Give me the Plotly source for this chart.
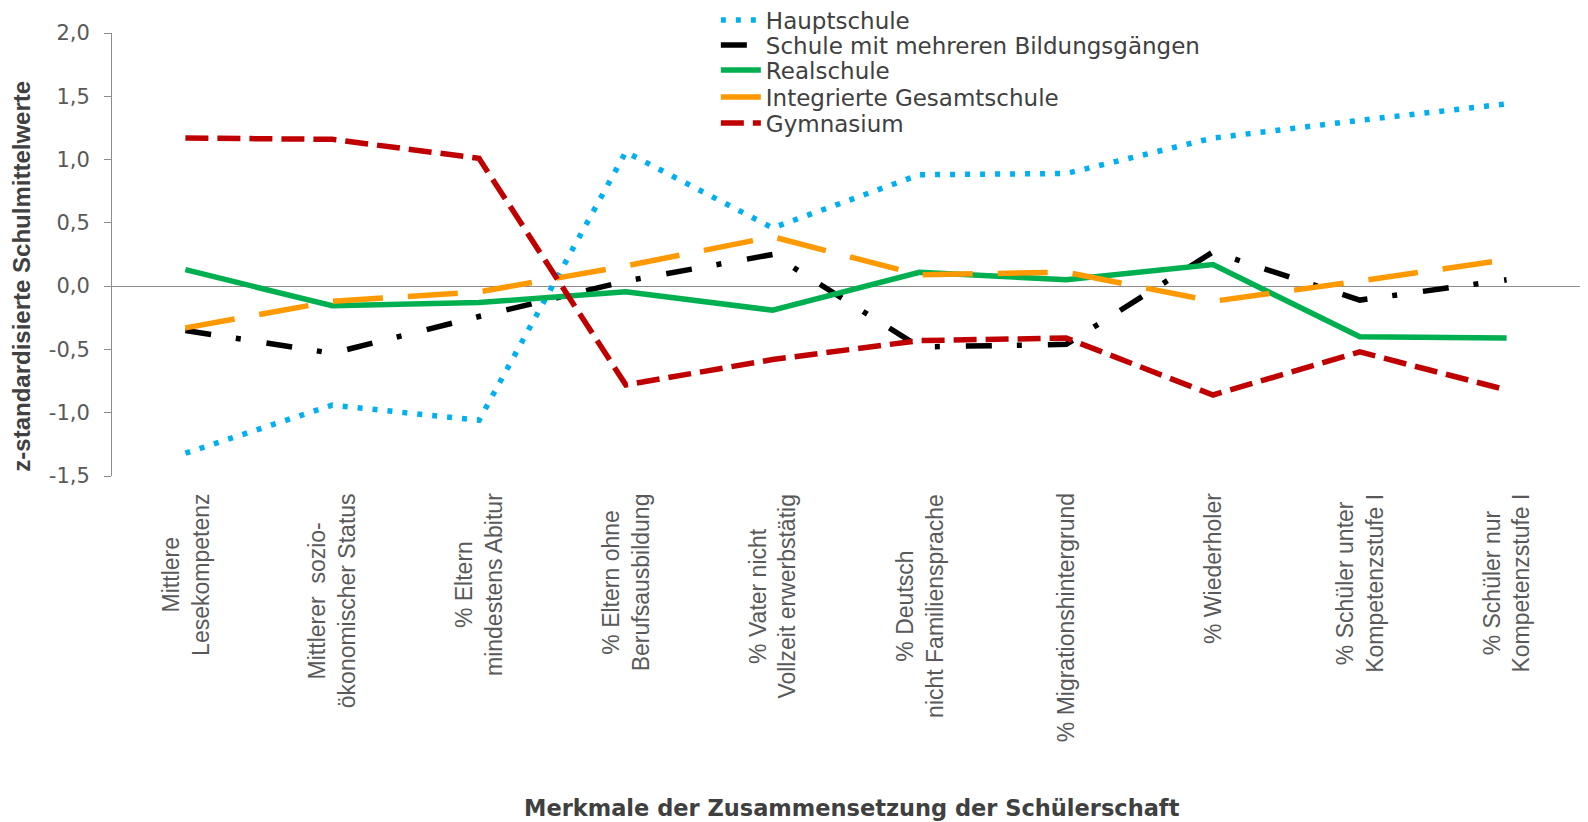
import plotly.graph_objects as go

categories = [
    "Mittlere<br>Lesekompetenz",
    "Mittlerer  sozio-<br>ökonomischer Status",
    "% Eltern<br>mindestens Abitur",
    "% Eltern ohne<br>Berufsausbildung",
    "% Vater nicht<br>Vollzeit erwerbstätig",
    "% Deutsch<br>nicht Familiensprache",
    "% Migrationshintergrund",
    "% Wiederholer",
    "% Schüler unter<br>Kompetenzstufe I",
    "% Schüler nur<br>Kompetenzstufe I",
]

hauptschule = [-1.32, -0.94, -1.06, 1.06, 0.46, 0.88, 0.89, 1.17, 1.31, 1.44]
mehrere = [-0.35, -0.53, -0.24, 0.04, 0.25, -0.48, -0.46, 0.27, -0.11, 0.05]
realschule = [0.13, -0.155, -0.13, -0.045, -0.19, 0.11, 0.05, 0.17, -0.40, -0.41]
gesamtschule = [-0.33, -0.12, -0.045, 0.16, 0.39, 0.09, 0.11, -0.12, 0.04, 0.21]
gymnasium = [1.17, 1.16, 1.01, -0.78, -0.58, -0.43, -0.41, -0.86, -0.52, -0.82]

y_ticks = [-1.5, -1.0, -0.5, 0.0, 0.5, 1.0, 1.5, 2.0]
y_ticktext = [f"{v:.1f}".replace(".", ",") for v in y_ticks]

x = list(range(len(categories)))

series = [
    ("Hauptschule", hauptschule, "#00B0F0", "5px,10px"),
    ("Schule mit mehreren Bildungsgängen", mehrere, "#000000", "26px,25px,5px,26px"),
    ("Realschule", realschule, "#00B050", "solid"),
    ("Integrierte Gesamtschule", gesamtschule, "#FF9900", "50px,25px"),
    ("Gymnasium", gymnasium, "#C00000", "23px,9px"),
]

ARIAL = "Arial, Liberation Sans, sans-serif"
WIDE = "DejaVu Sans, sans-serif"

# page has an 8px body margin; figure is sized to fit the window
FIG_W, FIG_H = 1580, 814

fig = go.Figure()
legend_names = ["legend", "legend2", "legend3", "legend4", "legend5"]
legend_rows = [20, 45, 70, 97, 123]  # row centres on the page (px)
legend_layout = {}
for (name, vals, color, dash), lg, row in zip(series, legend_names, legend_rows):
    fig.add_trace(go.Scatter(
        x=x, y=vals, mode="lines", name=name, legend=lg,
        line=dict(color=color, width=5.5, dash=dash),
    ))
    legend_layout[lg] = dict(
        xref="container", yref="container",
        x=0.448, xanchor="left",
        y=1 - (row - 8) / FIG_H, yanchor="middle",
        font=dict(family=WIDE, size=23, color="#404040"),
        bgcolor="rgba(0,0,0,0)", itemwidth=40,
    )

# category labels (rotated, centered multi-line)
for i, c in enumerate(categories):
    fig.add_annotation(
        x=i, xref="x", y=-0.035, yref="paper",
        text=c, textangle=-90, showarrow=False,
        xanchor="center", yanchor="top", align="center",
        font=dict(family=ARIAL, size=23, color="#595959"),
    )

fig.add_annotation(
    x=0.504, xref="paper", y=-0.75, yref="paper",
    text="<b>Merkmale der Zusammensetzung der Schülerschaft</b>",
    showarrow=False, xanchor="center", yanchor="middle",
    font=dict(family=WIDE, size=22.5, color="#404040"),
)

fig.add_annotation(
    x=-0.0613, xref="paper", y=0.45, yref="paper",
    text="<b>z-standardisierte Schulmittelwerte</b>", textangle=-90,
    showarrow=False, xanchor="center", yanchor="middle",
    font=dict(family=ARIAL, size=24, color="#404040"),
)

fig.update_layout(
    width=FIG_W, height=FIG_H,
    margin=dict(l=104, r=8, t=25, b=346, autoexpand=False),
    paper_bgcolor="white", plot_bgcolor="white",
    font=dict(family=ARIAL, color="#404040"),
    showlegend=True,
    **legend_layout,
)

fig.update_xaxes(
    range=[-0.5, 9.5], showticklabels=False, showgrid=False,
    zeroline=False, showline=False, ticks="",
)
fig.update_yaxes(
    range=[-1.5, 2.0], tickvals=y_ticks, ticktext=y_ticktext,
    showgrid=False, zeroline=True, zerolinecolor="#8C8C8C", zerolinewidth=1,
    showline=True, linecolor="#8C8C8C", linewidth=1,
    ticks="outside", ticklen=7, tickcolor="#8C8C8C",
    ticklabelstandoff=10,
    tickfont=dict(family=WIDE, size=21, color="#595959"),
)

fig.write_html("out.html")
